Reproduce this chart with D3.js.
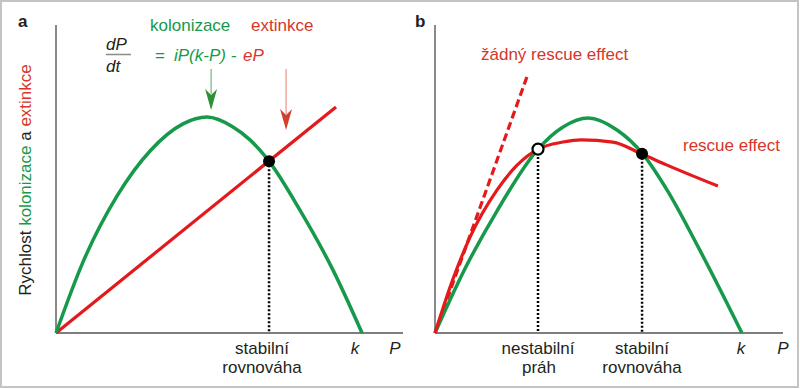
<!DOCTYPE html>
<html>
<head>
<meta charset="utf-8">
<script src="https://cdn.jsdelivr.net/npm/d3@7"></script>
<style>
  body { margin: 0; background: #fff; }
  svg { display: block; font-family: "Liberation Sans", Arial, sans-serif; }
</style>
</head>
<body>
<script>
// panel a: colonization curve and extinction line (P, rate)
const colonA = [[0, 0], [7.8, 23.1], [17.6, 44.5], [27.1, 59.1], [36.6, 67.9],
    [43.5, 70.1], [51.0, 66.9], [55.9, 62.7], [61.1, 56.2], [70.3, 39.9], [79.8, 20.5], [88.2, 0]];
const extinctA = [[0, 0], [80.7, 73.4]];
const stableA = [61.4, 55.8];

// panel b: colonization, extinction with rescue effect, without rescue effect
const colonB = [[0, 0], [8.0, 19.5], [17.8, 39.6], [29.6, 59.7], [36.8, 66.9], [44.0, 69.8],
    [52.3, 65.9], [59.5, 58.4], [66.7, 46.4], [76.1, 26.9], [88.2, 0]];
const rescueB = [[0, 0], [5.0, 17.0], [10.1, 31.2], [17.8, 46.4], [23.6, 54.5], [29.6, 59.7],
    [36.8, 62.0], [42.0, 62.7], [51.1, 62.0], [59.5, 58.1], [66.7, 54.5], [81.3, 47.7]];
const noRescueB = [[0, 0], [26.4, 83.1]];
const unstableB = [29.6, 59.7];
const stableB = [59.5, 58.2];

const kValue = 88.2;

const W = 800, H = 389;
const green = '#16994a';
const red = '#e3191c';
const redText = '#d8352a';
const dark = '#231f20';
const axisColor = '#7d7d7d';

const svg = d3.select('body').append('svg')
    .attr('width', W)
    .attr('height', H);

svg.append('rect')
    .attr('x', 1).attr('y', 1)
    .attr('width', W - 3).attr('height', H - 3)
    .attr('fill', '#fff')
    .attr('stroke', '#c4c4c4')
    .attr('stroke-width', 2);

const y = d3.scaleLinear().domain([0, 100]).range([333, 25]);
const xA = d3.scaleLinear().domain([0, 100]).range([56, 403]);
const xB = d3.scaleLinear().domain([0, 100]).range([435, 783]);

function drawAxes(x) {
    svg.append('line')
        .attr('x1', x(0)).attr('x2', x(0))
        .attr('y1', y(0)).attr('y2', y(100))
        .attr('stroke', axisColor).attr('stroke-width', 1.8);
    svg.append('line')
        .attr('x1', x(0)).attr('x2', x(100))
        .attr('y1', y(0)).attr('y2', y(0))
        .attr('stroke', axisColor).attr('stroke-width', 1.8);
}

function drawCurve(x, data, color, width, dash) {
    const line = d3.line()
        .x(d => x(d[0]))
        .y(d => y(d[1]))
        .curve(d3.curveMonotoneX);
    svg.append('path')
        .datum(data)
        .attr('d', line)
        .attr('fill', 'none')
        .attr('stroke', color)
        .attr('stroke-width', width)
        .attr('stroke-dasharray', dash || null);
}

function drawDrop(x, pt) {
    svg.append('line')
        .attr('x1', x(pt[0])).attr('x2', x(pt[0]))
        .attr('y1', y(pt[1])).attr('y2', y(0))
        .attr('stroke', '#000')
        .attr('stroke-width', 2.5)
        .attr('stroke-dasharray', '2,2');
}

function drawPoint(x, pt, filled) {
    svg.append('circle')
        .attr('cx', x(pt[0])).attr('cy', y(pt[1]))
        .attr('r', filled ? 6 : 5.5)
        .attr('fill', filled ? '#000' : '#fff')
        .attr('stroke', '#000')
        .attr('stroke-width', filled ? 0 : 2.2);
}

function label(x0, y0, txt, opts = {}) {
    return svg.append('text')
        .attr('x', x0).attr('y', y0)
        .attr('font-size', opts.size || 17)
        .attr('font-weight', opts.bold ? 'bold' : null)
        .attr('font-style', opts.italic ? 'italic' : null)
        .attr('text-anchor', opts.anchor || 'start')
        .attr('fill', opts.color || dark)
        .text(txt);
}

function arrow(cx, yTop, yTip, lineColor, headColor) {
    svg.append('line')
        .attr('x1', cx).attr('x2', cx)
        .attr('y1', yTop).attr('y2', yTip - 16)
        .attr('stroke', lineColor).attr('stroke-width', 1.2);
    svg.append('path')
        .attr('d', `M${cx - 6},${yTip - 21} L${cx},${yTip} L${cx + 6},${yTip - 21} L${cx},${yTip - 15} Z`)
        .attr('fill', headColor);
}

// ---- panel a ----
drawAxes(xA);
drawDrop(xA, stableA);
drawCurve(xA, extinctA, red, 3.2);
drawCurve(xA, colonA, green, 3.5);
drawPoint(xA, stableA, true);

arrow(xA(44.7), 69, 110, '#7bb57b', '#2f8f34');
arrow(xA(66.3), 69, 130, '#ee8f86', '#d2402b');

label(18, 27, 'a', { bold: true, size: 17 });
label(150, 31, 'kolonizace', { color: green });
label(251, 31, 'extinkce', { color: redText });
label(106, 50, 'dP', { italic: true });
svg.append('line')
    .attr('x1', 106).attr('x2', 131)
    .attr('y1', 54.5).attr('y2', 54.5)
    .attr('stroke', '#8a8a8a').attr('stroke-width', 1.5);
label(106, 72, 'dt', { italic: true });
label(155, 61, '=', { color: green });
label(174, 61, 'iP(k-P) -', { italic: true, color: green });
label(243, 61, 'eP', { italic: true, color: redText });

const yTitle = svg.append('text')
    .attr('transform', 'translate(31,180) rotate(-90)')
    .attr('text-anchor', 'middle')
    .attr('font-size', 17)
    .attr('fill', dark);
yTitle.append('tspan').text('Rychlost ');
yTitle.append('tspan').attr('fill', green).text('kolonizace');
yTitle.append('tspan').text(' a ');
yTitle.append('tspan').attr('fill', redText).text('extinkce');

label(262, 354, 'stabilní', { anchor: 'middle' });
label(262, 373, 'rovnováha', { anchor: 'middle' });
label(xA(kValue) - 7, 354, 'k', { italic: true, anchor: 'middle' });
label(395, 354, 'P', { italic: true, anchor: 'middle' });

// ---- panel b ----
drawAxes(xB);
drawDrop(xB, unstableB);
drawDrop(xB, stableB);
drawCurve(xB, noRescueB, red, 3.2, '8,4');
drawCurve(xB, colonB, green, 3.5);
drawCurve(xB, rescueB, red, 3.2);
drawPoint(xB, unstableB, false);
drawPoint(xB, stableB, true);

label(415, 27, 'b', { bold: true, size: 17 });
label(481, 60, 'žádný rescue effect', { color: redText });
label(683, 151, 'rescue effect', { color: redText });

label(538, 354, 'nestabilní', { anchor: 'middle' });
label(539, 373, 'práh', { anchor: 'middle' });
label(642, 354, 'stabilní', { anchor: 'middle' });
label(642, 373, 'rovnováha', { anchor: 'middle' });
label(xB(kValue) - 1, 354, 'k', { italic: true, anchor: 'middle' });
label(783, 354, 'P', { italic: true, anchor: 'middle' });
</script>
</body>
</html>
